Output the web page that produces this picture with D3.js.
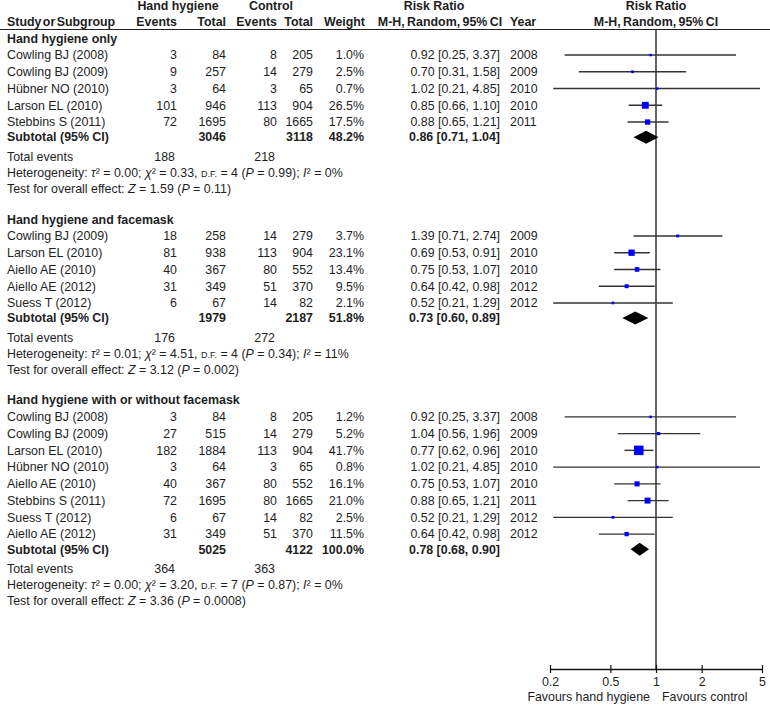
<!DOCTYPE html>
<html lang="en">
<head>
  <meta charset="UTF-8" />
  <title>Hand hygiene forest plot</title>
  <style>
    html, body {
      margin: 0;
      padding: 0;
      background: #fff;
    }
    svg {
      display: block;
      font-family: "Liberation Sans", Arial, sans-serif;
      font-size: 12.4px;
    }
  </style>
</head>
<body>

<script src="https://d3js.org/d3.v7.min.js"></script>
<script>
// ---- data ----
const groupNames = ["Hand hygiene only", "Hand hygiene and facemask", "Hand hygiene with or without facemask"];

// [study, events HH, total HH, events ctrl, total ctrl, weight %, RR, lower, upper, year]
const hhOnly = [
  ["Cowling BJ (2008)", 3, 84, 8, 205, 1.0, 0.92, 0.25, 3.37, 2008],
  ["Cowling BJ (2009)", 9, 257, 14, 279, 2.5, 0.70, 0.31, 1.58, 2009],
  ["Hübner NO (2010)", 3, 64, 3, 65, 0.7, 1.02, 0.21, 4.85, 2010],
  ["Larson EL (2010)", 101, 946, 113, 904, 26.5, 0.85, 0.66, 1.10, 2010],
  ["Stebbins S (2011)", 72, 1695, 80, 1665, 17.5, 0.88, 0.65, 1.21, 2011]
];
const hhMask = [
  ["Cowling BJ (2009)", 18, 258, 14, 279, 3.7, 1.39, 0.71, 2.74, 2009],
  ["Larson EL (2010)", 81, 938, 113, 904, 23.1, 0.69, 0.53, 0.91, 2010],
  ["Aiello AE (2010)", 40, 367, 80, 552, 13.4, 0.75, 0.53, 1.07, 2010],
  ["Aiello AE (2012)", 31, 349, 51, 370, 9.5, 0.64, 0.42, 0.98, 2012],
  ["Suess T (2012)", 6, 67, 14, 82, 2.1, 0.52, 0.21, 1.29, 2012]
];
const hhEither = [
  ["Cowling BJ (2008)", 3, 84, 8, 205, 1.2, 0.92, 0.25, 3.37, 2008],
  ["Cowling BJ (2009)", 27, 515, 14, 279, 5.2, 1.04, 0.56, 1.96, 2009],
  ["Larson EL (2010)", 182, 1884, 113, 904, 41.7, 0.77, 0.62, 0.96, 2010],
  ["Hübner NO (2010)", 3, 64, 3, 65, 0.8, 1.02, 0.21, 4.85, 2010],
  ["Aiello AE (2010)", 40, 367, 80, 552, 16.1, 0.75, 0.53, 1.07, 2010],
  ["Stebbins S (2011)", 72, 1695, 80, 1665, 21.0, 0.88, 0.65, 1.21, 2011],
  ["Suess T (2012)", 6, 67, 14, 82, 2.5, 0.52, 0.21, 1.29, 2012],
  ["Aiello AE (2012)", 31, 349, 51, 370, 11.5, 0.64, 0.42, 0.98, 2012]
];
const groupStudies = [hhOnly, hhMask, hhEither];

// [total HH, total ctrl, weight %, RR, lower, upper]
const subtotals = [
  [3046, 3118, 48.2, 0.86, 0.71, 1.04],
  [1979, 2187, 51.8, 0.73, 0.60, 0.89],
  [5025, 4122, 100.0, 0.78, 0.68, 0.90]
];
const totalEvents = [[188, 218], [176, 272], [364, 363]];
// [tau2, chi2, df, P, I2]
const heterogeneity = [
  ["0.00", "0.33", 4, "0.99", "0"],
  ["0.01", "4.51", 4, "0.34", "11"],
  ["0.00", "3.20", 7, "0.87", "0"]
];
// [Z, P]
const overallEffect = [["1.59", "0.11"], ["3.12", "0.002"], ["3.36", "0.0008"]];

const tickValues = [0.2, 0.5, 1, 2, 5];

// ---- layout ----
const width = 770;
const height = 708;
const col = {
  name: 7, evT: 177, totT: 226, evC: 277, totC: 313, weight: 364,
  ci: 500, year: 510
};
const axisY = 669;
const headerLine = 29.5;

const x = d3.scaleLog().domain([0.2, 5]).range([550, 762]);
const y = d3.scaleLinear().domain([0, 1]).range([38.3, 38.3 + 16.75]);
const box = d3.scaleLinear().domain([0, 41.7]).range([2.3, 9.5]);
const f2 = d3.format(".2f");
const f1 = d3.format(".1f");

// build the rows (in row units)
const rows = [];
let u = 0;
groupNames.forEach((g, gi) => {
  if (gi > 0) u += 1.8;
  rows.push({type: "group", u, g: gi});
  groupStudies[gi].forEach(s => {
    u += 1;
    rows.push({type: "study", u, s});
  });
  u += 0.9;
  rows.push({type: "subtotal", u, g: gi});
  u += 1.1;
  rows.push({type: "events", u, g: gi});
  u += 1;
  rows.push({type: "het", u, g: gi});
  u += 1;
  rows.push({type: "test", u, g: gi});
});

const svg = d3.select("body").append("svg")
  .attr("width", width)
  .attr("height", height)
  .attr("viewBox", [0, 0, width, height]);

const ink = "#1e1e1e";

function txt(g, xPos, yPos, s, anchor, bold) {
  return g.append("text")
    .attr("x", xPos)
    .attr("y", yPos)
    .attr("dy", "0.35em")
    .attr("text-anchor", anchor || "start")
    .attr("font-weight", bold ? "bold" : null)
    .attr("fill", ink)
    .text(s);
}

// ---- header ----
const gHead = svg.append("g");
txt(gHead, 178, 6, "Hand hygiene", "middle", true);
txt(gHead, 271, 6, "Control", "middle", true);
txt(gHead, 434, 6, "Risk Ratio", "middle", true);
txt(gHead, x(1), 6, "Risk Ratio", "middle", true);
txt(gHead, col.name, 22, "Study or Subgroup", "start", true).attr("word-spacing", -2);
txt(gHead, col.evT, 22, "Events", "end", true);
txt(gHead, col.totT, 22, "Total", "end", true);
txt(gHead, col.evC, 22, "Events", "end", true);
txt(gHead, col.totC, 22, "Total", "end", true);
txt(gHead, col.weight + 1, 22, "Weight", "end", true);
txt(gHead, 440, 22, "M-H, Random, 95% CI", "middle", true).attr("word-spacing", -1);
txt(gHead, col.year, 22, "Year", "start", true);
txt(gHead, x(1), 22, "M-H, Random, 95% CI", "middle", true).attr("word-spacing", -1);

gHead.append("line")
  .attr("x1", 0).attr("x2", width)
  .attr("y1", headerLine).attr("y2", headerLine)
  .attr("stroke", "#222").attr("stroke-width", 1.2);

// ---- line of no effect ----
svg.append("line")
  .attr("x1", x(1)).attr("x2", x(1))
  .attr("y1", headerLine).attr("y2", axisY)
  .attr("stroke", "#111").attr("stroke-width", 1.3);

// ---- table rows and marks ----
const gRows = svg.append("g");
const gMarks = svg.append("g");

rows.forEach(r => {
  const yy = y(r.u);
  if (r.type === "group") {
    txt(gRows, col.name, yy, groupNames[r.g], "start", true);
  } else if (r.type === "study") {
    const s = r.s;
    txt(gRows, col.name, yy, s[0]);
    txt(gRows, col.evT, yy, s[1], "end");
    txt(gRows, col.totT, yy, s[2], "end");
    txt(gRows, col.evC, yy, s[3], "end");
    txt(gRows, col.totC, yy, s[4], "end");
    txt(gRows, col.weight, yy, f1(s[5]) + "%", "end");
    txt(gRows, col.ci, yy, `${f2(s[6])} [${f2(s[7])}, ${f2(s[8])}]`, "end");
    txt(gRows, col.year, yy, s[9]);

    gMarks.append("line")
      .attr("x1", x(s[7])).attr("x2", x(s[8]))
      .attr("y1", yy).attr("y2", yy)
      .attr("stroke", "#333").attr("stroke-width", 1.4);
    const b = box(s[5]);
    gMarks.append("rect")
      .attr("x", x(s[6]) - b / 2).attr("y", yy - b / 2)
      .attr("width", b).attr("height", b)
      .attr("fill", "#0000ff");
  } else if (r.type === "subtotal") {
    const t = subtotals[r.g];
    txt(gRows, col.name, yy, "Subtotal (95% CI)", "start", true);
    txt(gRows, col.totT, yy, t[0], "end", true);
    txt(gRows, col.totC, yy, t[1], "end", true);
    txt(gRows, col.weight, yy, f1(t[2]) + "%", "end", true);
    txt(gRows, col.ci, yy, `${f2(t[3])} [${f2(t[4])}, ${f2(t[5])}]`, "end", true);

    const h = 6.5;
    gMarks.append("path")
      .attr("d", `M${x(t[4])},${yy}L${x(t[3])},${yy - h}L${x(t[5])},${yy}L${x(t[3])},${yy + h}Z`)
      .attr("fill", "#000");
  } else if (r.type === "events") {
    const e = totalEvents[r.g];
    txt(gRows, col.name, yy + 1, "Total events");
    txt(gRows, col.evT - 2, yy + 1, e[0], "end");
    txt(gRows, col.evC - 2, yy + 1, e[1], "end");
  } else if (r.type === "het") {
    const h = heterogeneity[r.g];
    const t = gRows.append("text")
      .attr("x", col.name).attr("y", yy).attr("dy", "0.35em").attr("fill", ink);
    const parts = [
      ["Heterogeneity: "], ["τ", "i"], ["²"], [` = ${h[0]}; `], ["χ", "i"], ["²"],
      [` = ${h[1]}, `], ["D.F.", "s"], [` = ${h[2]} (`], ["P", "i"], [` = ${h[3]}); `],
      ["I", "i"], ["²"], [` = ${h[4]}%`]
    ];
    parts.forEach(p => {
      const sp = t.append("tspan").text(p[0]);
      if (p[1] === "i") sp.attr("font-style", "italic");
      if (p[1] === "s") sp.attr("font-size", "9px");
    });
  } else if (r.type === "test") {
    const o = overallEffect[r.g];
    const t = gRows.append("text")
      .attr("x", col.name).attr("y", yy).attr("dy", "0.35em").attr("fill", ink);
    t.append("tspan").text("Test for overall effect: ");
    t.append("tspan").attr("font-style", "italic").text("Z");
    t.append("tspan").text(` = ${o[0]} (`);
    t.append("tspan").attr("font-style", "italic").text("P");
    t.append("tspan").text(` = ${o[1]})`);
  }
});

// ---- axis ----
const axis = svg.append("g")
  .attr("transform", `translate(0,${axisY})`)
  .call(d3.axisBottom(x)
    .tickValues(tickValues)
    .tickFormat(d => d)
    .tickSize(4)
    .tickSizeOuter(0)
    .tickPadding(4));

axis.select(".domain").attr("stroke", "#111").attr("stroke-width", 1.3);
axis.selectAll(".tick line").attr("y1", -4).attr("stroke", "#111").attr("stroke-width", 1.2);
axis.selectAll(".tick text")
  .attr("font-size", 12.4)
  .attr("font-family", "'Liberation Sans', Arial, sans-serif")
  .attr("fill", ink);

txt(svg, x(1) - 6, 697, "Favours hand hygiene", "end");
txt(svg, x(1) + 6, 697, "Favours control", "start");
</script>
</body>
</html>
